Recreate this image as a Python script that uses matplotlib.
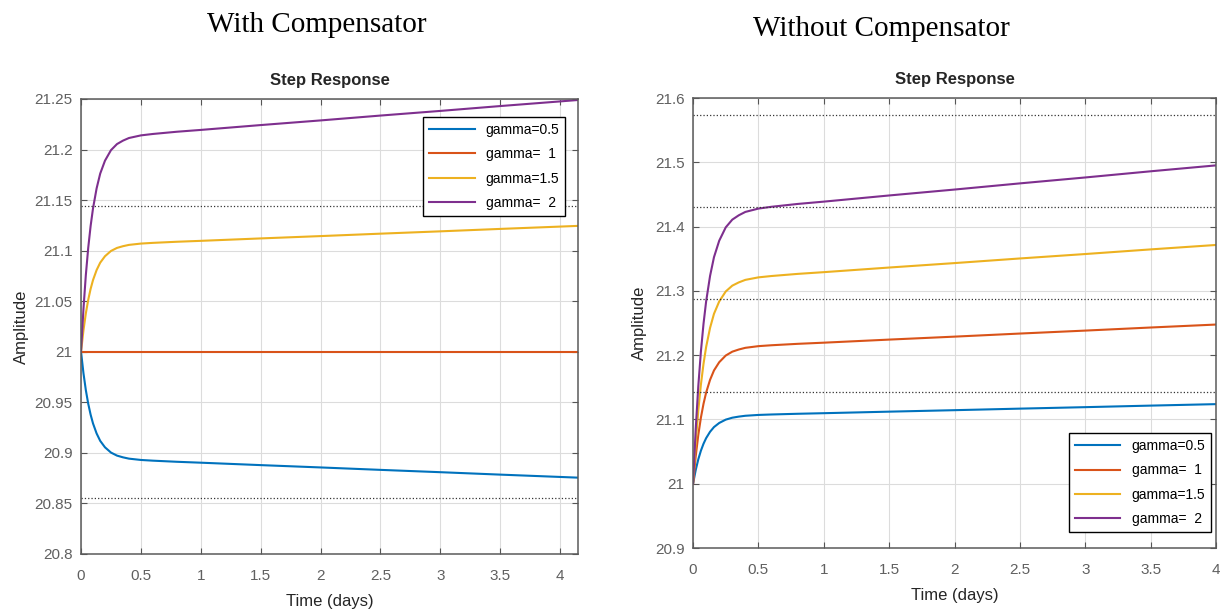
import matplotlib
matplotlib.use("Agg")
import matplotlib.pyplot as plt
from matplotlib.ticker import FuncFormatter, MultipleLocator

# Step response samples (time in days)
t_comp = [0, 0.02, 0.04, 0.06, 0.08, 0.1, 0.13, 0.16, 0.2, 0.25, 0.3, 0.35,
          0.4, 0.5, 0.6, 0.8, 1.0, 1.5, 2.0, 2.5, 3.0, 3.5, 4.0, 4.15]
t_nocomp = t_comp[:-1]

# With compensator
comp_g05 = [21.0, 20.979, 20.9621, 20.9486, 20.9378, 20.9291, 20.9192, 20.9119,
            20.9055, 20.9003, 20.8973, 20.8956, 20.8943, 20.8930, 20.8923, 20.8912,
            20.8903, 20.8879, 20.8856, 20.8832, 20.8809, 20.8785, 20.8762, 20.8755]
comp_g1 = [21.0] * 24
comp_g15 = [21.0, 21.021, 21.0379, 21.0514, 21.0622, 21.0709, 21.0808, 21.0881,
            21.0945, 21.0997, 21.1027, 21.1044, 21.1057, 21.1070, 21.1077, 21.1088,
            21.1097, 21.1121, 21.1144, 21.1168, 21.1191, 21.1215, 21.1238, 21.1245]
comp_g2 = [21.0, 21.042, 21.0758, 21.1028, 21.1244, 21.1418, 21.1616, 21.1762,
           21.189, 21.1994, 21.2054, 21.2088, 21.2114, 21.214, 21.2154, 21.2176,
           21.2194, 21.2242, 21.2288, 21.2336, 21.2382, 21.243, 21.2476, 21.249]
comp_bounds = [21.1445, 20.8557]

# Without compensator
nocomp_g05 = [21.0, 21.021, 21.0379, 21.0514, 21.0622, 21.0709, 21.0808, 21.0881,
              21.0945, 21.0997, 21.1027, 21.1044, 21.1057, 21.1070, 21.1077, 21.1088,
              21.1097, 21.1121, 21.1144, 21.1168, 21.1191, 21.1215, 21.1238]
nocomp_g1 = [21.0, 21.042, 21.0758, 21.1028, 21.1244, 21.1418, 21.1616, 21.1762,
             21.189, 21.1994, 21.2054, 21.2088, 21.2114, 21.214, 21.2154, 21.2176,
             21.2194, 21.2242, 21.2288, 21.2336, 21.2382, 21.243, 21.2476]
nocomp_g15 = [21.0, 21.063, 21.1137, 21.1542, 21.1866, 21.2127, 21.2424, 21.2643,
              21.2835, 21.2991, 21.3081, 21.3132, 21.3171, 21.321, 21.3231, 21.3264,
              21.3291, 21.3363, 21.3432, 21.3504, 21.3573, 21.3645, 21.3714]
nocomp_g2 = [21.0, 21.084, 21.1516, 21.2056, 21.2488, 21.2836, 21.3232, 21.3524,
             21.378, 21.3988, 21.4108, 21.4176, 21.4228, 21.428, 21.4308, 21.4352,
             21.4388, 21.4484, 21.4576, 21.4672, 21.4764, 21.486, 21.4952]
nocomp_bounds = [21.574, 21.431, 21.2875, 21.143]

labels = ['gamma=0.5', 'gamma=  1', 'gamma=1.5', 'gamma=  2']
colors = ['#0072BD', '#D95319', '#EDB120', '#7E2F8E']

plt.rcParams['font.family'] = ['Liberation Sans', 'DejaVu Sans']

fig = plt.figure(figsize=(12.26, 6.11), dpi=100)
ax1 = fig.add_axes([0.0661, 0.0933, 0.4054, 0.7447])
ax2 = fig.add_axes([0.5653, 0.1031, 0.4266, 0.7365])

fmt = FuncFormatter(lambda v, pos: '%g' % round(v, 4))


def style_axes(ax, xmax, ylim, ystep):
    ax.set_xlim(0, xmax)
    ax.set_ylim(*ylim)
    ax.xaxis.set_major_locator(MultipleLocator(0.5))
    ax.yaxis.set_major_locator(MultipleLocator(ystep))
    ax.xaxis.set_major_formatter(fmt)
    ax.yaxis.set_major_formatter(fmt)
    ax.grid(True, color='#dcdcdc', linewidth=0.8)
    ax.set_axisbelow(True)
    ax.tick_params(direction='in', length=4, width=0.8, color='#555555',
                   top=True, right=True, labelsize=11, labelcolor='#606060')
    ax.tick_params(axis='x', pad=11)
    ax.tick_params(axis='y', pad=6)
    for s in ax.spines.values():
        s.set_color('#5a5a5a')
        s.set_linewidth(1.1)
    ax.set_title('Step Response', fontsize=12, fontweight='bold', color='#262626', pad=10)
    ax.set_xlabel('Time (days)', fontsize=12, color='#262626', labelpad=8)
    ax.set_ylabel('Amplitude', fontsize=12, color='#262626')


# left panel: with compensator
for y, c, lab in zip([comp_g05, comp_g1, comp_g15, comp_g2], colors, labels):
    ax1.plot(t_comp, y, color=c, linewidth=1.5, label=lab)
for b in comp_bounds:
    ax1.axhline(b, color='#333333', linestyle=':', linewidth=0.9)
style_axes(ax1, 4.15, (20.8, 21.25), 0.05)
ax1.yaxis.set_label_coords(-0.104, 0.5)
leg1 = ax1.legend(loc='upper right', bbox_to_anchor=(0.974, 0.960), borderaxespad=0,
                  fontsize=10, handlelength=3.3, labelspacing=0.75, fancybox=False,
                  framealpha=1, edgecolor='black')
leg1.get_frame().set_linewidth(1.0)

# right panel: without compensator
for y, c, lab in zip([nocomp_g05, nocomp_g1, nocomp_g15, nocomp_g2], colors, labels):
    ax2.plot(t_nocomp, y, color=c, linewidth=1.5, label=lab)
for b in nocomp_bounds:
    ax2.axhline(b, color='#333333', linestyle=':', linewidth=0.9)
style_axes(ax2, 4.0, (20.9, 21.6), 0.1)
ax2.yaxis.set_label_coords(-0.088, 0.5)
leg2 = ax2.legend(loc='lower right', bbox_to_anchor=(0.990, 0.036), borderaxespad=0,
                  fontsize=10, handlelength=3.3, labelspacing=0.75, fancybox=False,
                  framealpha=1, edgecolor='black')
leg2.get_frame().set_linewidth(1.0)

# panel headings
fig.text(207 / 1226, 1 - 25 / 611, 'With Compensator', family='Liberation Serif',
         fontsize=21, ha='left', va='center')
fig.text(753 / 1226, 1 - 29 / 611, 'Without Compensator', family='Liberation Serif',
         fontsize=21, ha='left', va='center')

fig.savefig('out.png', dpi=100)
